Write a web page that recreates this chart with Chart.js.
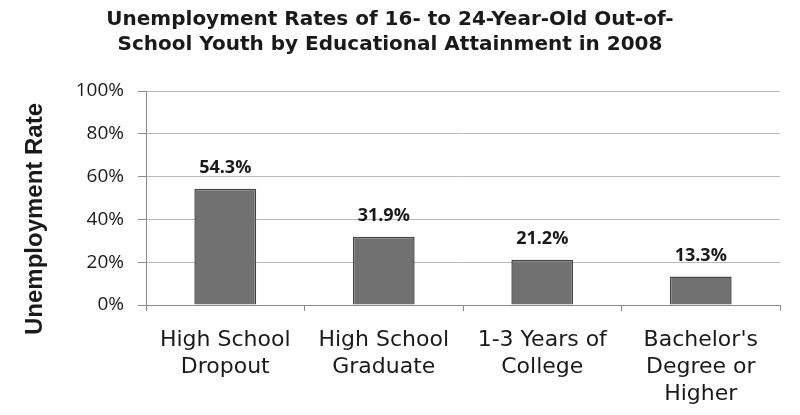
<!DOCTYPE html>
<html>
<head>
<meta charset="utf-8">
<script src="https://cdn.jsdelivr.net/npm/chart.js@4.4.1/dist/chart.umd.min.js"></script>
<style>
  body { margin: 0; background: #fff; }
</style>
</head>
<body>
<canvas id="barChart" width="800" height="415"></canvas>
<script>
// Dati del grafico
var categories = [
    ['High School', 'Dropout'],
    ['High School', 'Graduate'],
    ['1-3 Years of', 'College'],
    ["Bachelor's", 'Degree or', 'Higher']
];
var rates = [54.3, 31.9, 21.2, 13.3];
var yTicks = [0, 20, 40, 60, 80, 100];

var titleLines = [
    'Unemployment Rates of 16- to 24-Year-Old Out-of-',
    'School Youth by Educational Attainment in 2008'
];
var yTitle = 'Unemployment Rate';

var textColor = '#1a1a1a';

// Etichette sopra le barre
var valueLabels = {
    id: 'valueLabels',
    afterDatasetsDraw: function (chart) {
        var ctx = chart.ctx;
        var meta = chart.getDatasetMeta(0);
        ctx.save();
        ctx.font = 'bold 18px "Open Sans", sans-serif';
        ctx.fillStyle = textColor;
        ctx.textAlign = 'center';
        ctx.textBaseline = 'alphabetic';
        meta.data.forEach(function (bar, i) {
            ctx.fillText(rates[i].toFixed(1) + '%', bar.x, bar.y - 16);
        });
        ctx.restore();
    }
};

// Titolo asse y (spostato un po' in basso come nell'originale)
var yAxisTitle = {
    id: 'yAxisTitle',
    afterDraw: function (chart) {
        var ctx = chart.ctx;
        var area = chart.chartArea;
        ctx.save();
        ctx.translate(35, (area.top + area.bottom) / 2 + 21);
        ctx.rotate(-Math.PI / 2);
        ctx.font = 'bold 24px "Liberation Sans", Arial, sans-serif';
        ctx.fillStyle = textColor;
        ctx.textAlign = 'center';
        ctx.textBaseline = 'middle';
        ctx.fillText(yTitle, 0, 0);
        ctx.restore();
    }
};

var ctx = document.getElementById('barChart').getContext('2d');

new Chart(ctx, {
    type: 'bar',
    data: {
        labels: categories,
        datasets: [{
            data: rates,
            backgroundColor: '#717171',
            borderColor: '#474747',
            borderWidth: 1.5,
            barPercentage: 0.39,
            categoryPercentage: 1
        }]
    },
    options: {
        responsive: false,
        animation: false,
        layout: { padding: { left: 0, right: 20, top: 0, bottom: 0 } },
        plugins: {
            legend: { display: false },
            tooltip: { enabled: false },
            title: {
                display: true,
                text: titleLines,
                color: textColor,
                font: { family: '"DejaVu Sans", sans-serif', size: 20, weight: 'bold', lineHeight: 1.225 },
                padding: { top: 8, bottom: 34 }
            }
        },
        scales: {
            x: {
                afterFit: function (scale) { scale.height = 110; },
                grid: {
                    offset: true,
                    drawOnChartArea: false,
                    drawTicks: true,
                    tickLength: 6,
                    color: '#8a8a8a'
                },
                border: { color: '#8a8a8a', width: 1 },
                ticks: {
                    color: textColor,
                    padding: 16,
                    maxRotation: 0,
                    font: { family: '"DejaVu Sans", sans-serif', size: 22, lineHeight: 1.23 }
                }
            },
            y: {
                min: 0,
                max: 100,
                afterFit: function (scale) { scale.width = 146; },
                afterBuildTicks: function (scale) {
                    scale.ticks = yTicks.map(function (v) { return { value: v }; });
                },
                grid: {
                    color: '#b8b8b8',
                    tickLength: 8,
                    tickColor: '#8a8a8a'
                },
                border: { color: '#8a8a8a', width: 1 },
                ticks: {
                    color: textColor,
                    padding: 14,
                    font: { family: '"Open Sans", sans-serif', size: 19 },
                    callback: function (v) { return v + '%'; }
                }
            }
        }
    },
    plugins: [valueLabels, yAxisTitle]
});
</script>
</body>
</html>
